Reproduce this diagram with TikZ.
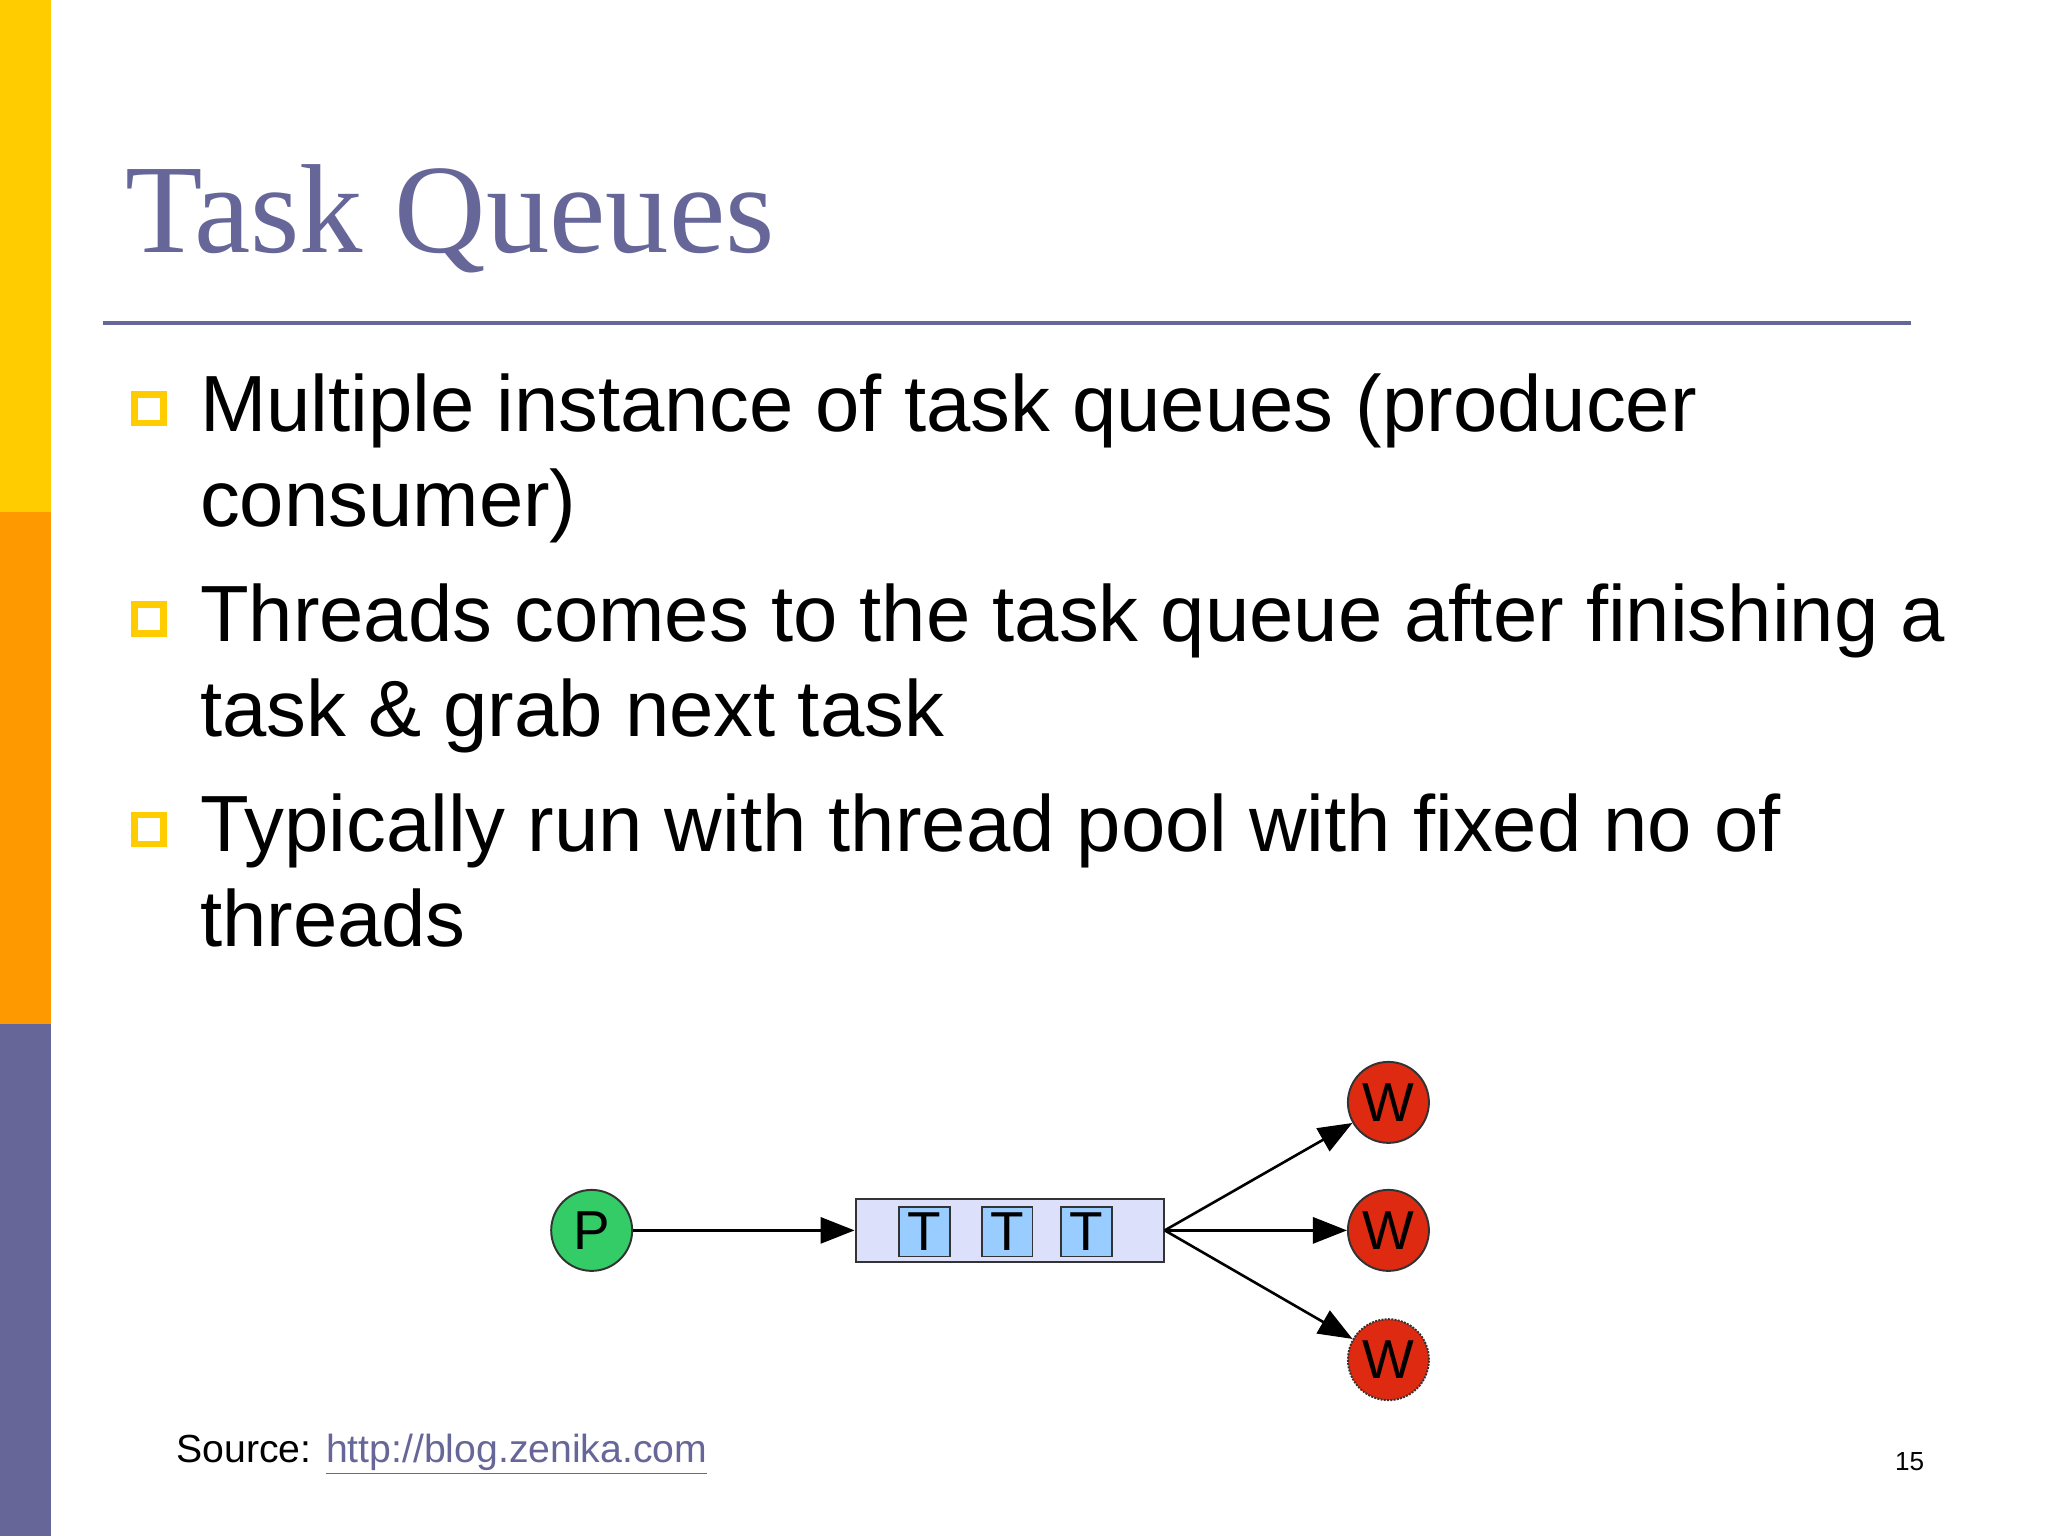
\documentclass[tikz,border=0pt]{standalone}
\usepackage{fontspec}
\setmainfont{Liberation Sans}
\newfontfamily\seriffont{Liberation Serif}
\usetikzlibrary{arrows.meta}
\definecolor{tpurple}{HTML}{666699}
\definecolor{tyellow}{HTML}{FFCC00}
\definecolor{torange}{HTML}{FF9900}
\definecolor{pgreen}{HTML}{33CC66}
\definecolor{wred}{HTML}{DD2A10}
\definecolor{qfill}{HTML}{DDE0FA}
\definecolor{tfill}{HTML}{99CCFF}
\begin{document}
\begin{tikzpicture}[x=1pt,y=-1pt,
  bul/.style={draw=tyellow,line width=5pt,minimum size=22pt,inner sep=0pt},
  btext/.style={anchor=base west,font=\fontsize{61}{73}\selectfont,align=left,inner sep=0pt},
  circ/.style={circle,draw=black!80,line width=1.5pt,minimum size=62pt,inner sep=0pt,font=\fontsize{42}{42}\selectfont},
  tbox/.style={draw=black!80,fill=tfill,line width=1.5pt,minimum width=39pt,minimum height=38pt,inner sep=0pt,font=\fontsize{42}{42}\selectfont},
  arr/.style={-{Triangle[length=26pt,width=20pt]},line width=2pt}]
\useasboundingbox (0,0) rectangle (1568,1176);
\fill[white] (0,0) rectangle (1568,1176);
\fill[tyellow] (0,0) rectangle (39,392);
\fill[torange] (0,392) rectangle (39,784);
\fill[tpurple] (0,784) rectangle (39,1176);
\node[anchor=base west,inner sep=0pt,text=tpurple,font=\seriffont\fontsize{97}{97}\selectfont] (title) at (96,193) {Task Queues};
\draw[tpurple,line width=3pt] (79,247) -- (1463,247);
\node[bul] (b1) at (114,313) {};
\node[btext] (t1) at (153,403) {Multiple instance of task queues (producer\\consumer)};
\node[bul] (b2) at (114,474) {};
\node[btext] (t2) at (153,564) {Threads comes to the task queue after finishing a\\task \& grab next task};
\node[bul] (b3) at (114,635) {};
\node[btext] (t3) at (153,725) {Typically run with thread pool with fixed no of\\threads};
\node[circ,fill=pgreen] (P) at (453,942) {P};
\node[draw=black!80,fill=qfill,line width=1.5pt,minimum width=236pt,minimum height=48pt,inner sep=0pt] (Q) at (773,942) {};
\node[tbox] (T1) at (708,943) {T};
\node[tbox] (T2) at (771,943) {T};
\node[tbox] (T3) at (832,943) {T};
\node[circ,fill=wred] (W1) at (1063,844) {W};
\node[circ,fill=wred] (W2) at (1063,942) {W};
\node[circ,fill=wred,densely dotted] (W3) at (1063,1041) {W};
\draw[arr] (P) -- (Q.west);
\draw[arr] (Q.east) -- (W1);
\draw[arr] (Q.east) -- (W2);
\draw[arr] (Q.east) -- (W3);
\node[anchor=base west,inner sep=0pt,font=\fontsize{30}{30}\selectfont] (src) at (135,1120) {Source: \textcolor{tpurple}{\underline{http://blog.zenika.com}}};
\node[anchor=base,inner sep=0pt,font=\fontsize{20}{20}\selectfont] (pg) at (1462,1126) {15};
\end{tikzpicture}
\end{document}
